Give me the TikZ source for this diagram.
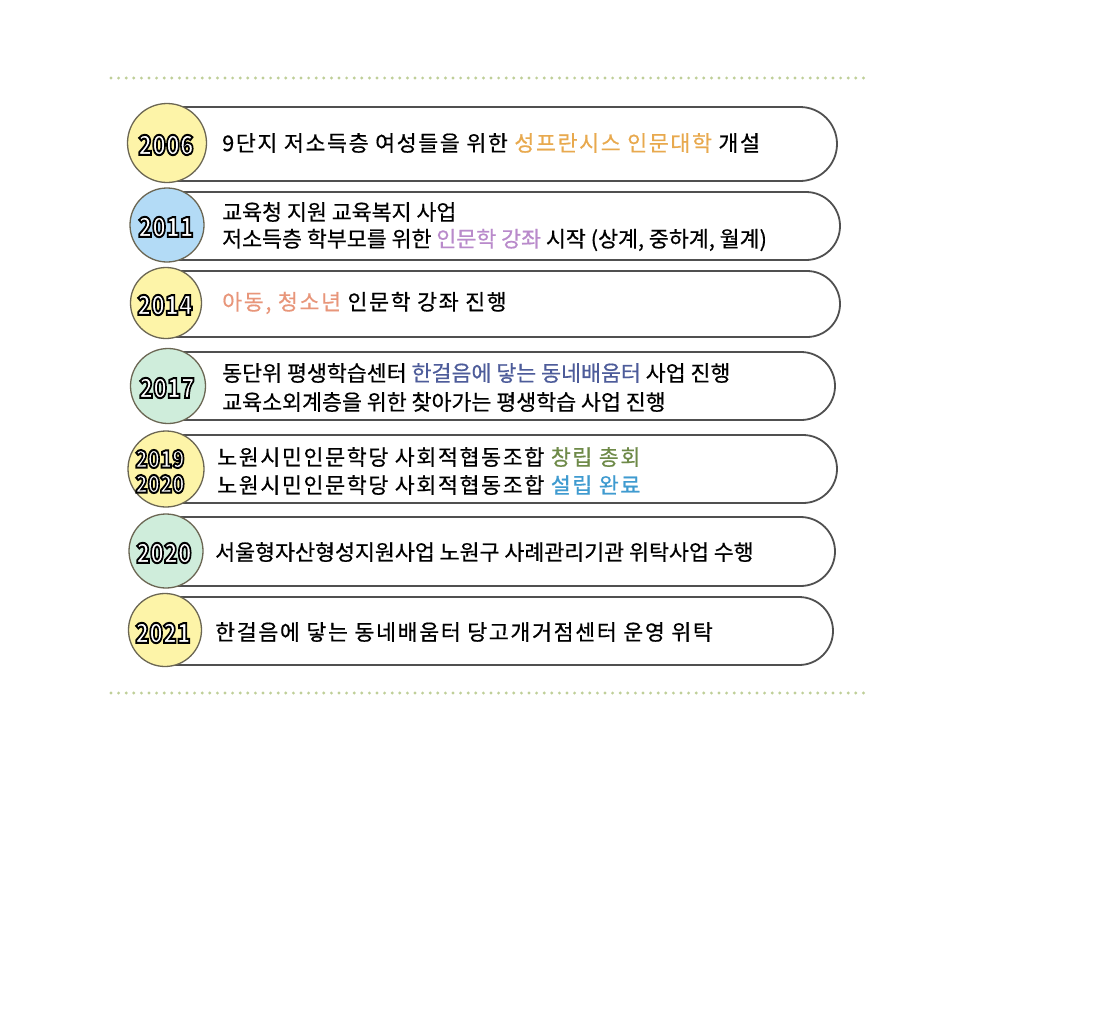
\documentclass[tikz,border=0pt]{standalone}
\usepackage{fontspec}
\usepackage{graphicx}
\usetikzlibrary{shapes.misc}
\setmainfont{Noto Sans CJK KR}[FakeBold=0.6]
\newfontfamily\yearfont{Noto Sans CJK KR}
\newfontfamily\widefont{Noto Sans CJK KR}[LetterSpace=7.5,FakeBold=0.6]
\definecolor{dotc}{HTML}{BFCF98}
\definecolor{barline}{HTML}{505050}
\definecolor{circline}{HTML}{6B6653}
\definecolor{cyel}{HTML}{FDF4A8}
\definecolor{cblue}{HTML}{B3DBF6}
\definecolor{cgreen}{HTML}{CFEDDB}
\definecolor{korange}{HTML}{E8A94E}
\definecolor{kpurple}{HTML}{B98ACB}
\definecolor{ksalmon}{HTML}{E8967A}
\definecolor{kblue}{HTML}{4D5C9A}
\definecolor{kgreen}{HTML}{6E8A48}
\definecolor{kteal}{HTML}{3F9BD0}
\newcommand{\yr}[1]{\special{pdf:code q 0 G 1 g 2 Tr 2.0 w}\scalebox{0.84}[1]{#1}\special{pdf:code Q}}
\tikzset{
  bar/.style={rounded rectangle, rounded rectangle left arc=none, draw=barline, line width=1.8pt, fill=white, inner sep=0pt},
  yearcirc/.style={circle, draw=circline, line width=1.3pt, inner sep=0pt},
  yeartext/.style={font=\yearfont\bfseries\fontsize{27}{29}\selectfont, inner sep=0pt},
  yeartextsmall/.style={font=\yearfont\bfseries\fontsize{24}{26}\selectfont, inner sep=0pt},
  line/.style={anchor=west, inner sep=0pt, font=\fontsize{21.7}{24}\selectfont},
  wline/.style={anchor=west, inner sep=0pt, font=\widefont\fontsize{21.7}{24}\selectfont},
  dotline/.style={dotc, line width=3.2pt, line cap=round, dash pattern=on 0pt off 7.6pt}
}
\begin{document}
\begin{tikzpicture}[x=1pt,y=-1pt]
\useasboundingbox (0,0) rectangle (1100,1012);
\fill[white] (0,0) rectangle (1100,1012);
% dotted separators
\coordinate (d1a) at (111,78); \coordinate (d1b) at (870,78);
\coordinate (d2a) at (111,693); \coordinate (d2b) at (870,693);
\draw[dotline] (d1a) -- (d1b);
\draw[dotline] (d2a) -- (d2b);
% bars
\node[bar, minimum width=670pt, minimum height=74pt] (b1) at (502,144) {};
\node[bar, minimum width=673pt, minimum height=68pt] (b2) at (503.5,226) {};
\node[bar, minimum width=673pt, minimum height=66pt] (b3) at (503.5,304) {};
\node[bar, minimum width=668pt, minimum height=68pt] (b4) at (501,386) {};
\node[bar, minimum width=670pt, minimum height=68pt] (b5) at (502,469) {};
\node[bar, minimum width=668pt, minimum height=69pt] (b6) at (501,551.5) {};
\node[bar, minimum width=666pt, minimum height=68pt] (b7) at (500,631) {};
% circles
\node[yearcirc, fill=cyel, minimum size=79pt] (c1) at (167,143) {};
\node[yearcirc, fill=cblue, minimum size=74pt] (c2) at (167,225) {};
\node[yearcirc, fill=cyel, minimum size=71pt] (c3) at (166,303) {};
\node[yearcirc, fill=cgreen, minimum size=75pt] (c4) at (168,386) {};
\node[yearcirc, fill=cyel, minimum size=76pt] (c5) at (166,469) {};
\node[yearcirc, fill=cgreen, minimum size=74pt] (c6) at (166,551) {};
\node[yearcirc, fill=cyel, minimum size=73pt] (c7) at (165,630) {};
% year labels
\node[yeartext] (y1) at (166,145) {\yr{2006}};
\node[yeartext] (y2) at (166,227) {\yr{2011}};
\node[yeartext] (y3) at (165,305) {\yr{2014}};
\node[yeartext] (y4) at (167,388) {\yr{2017}};
\node[yeartextsmall] (y5a) at (160,459) {\yr{2019}};
\node[yeartextsmall] (y5b) at (160,484) {\yr{2020}};
\node[yeartext] (y6) at (164,553) {\yr{2020}};
\node[yeartext] (y7) at (163,633) {\yr{2021}};
% texts
\node[wline] (t1) at (222,143) {9단지 저소득층 여성들을 위한 \textcolor{korange}{성프란시스 인문대학} 개설};
\node[line] (t2a) at (222,212) {교육청 지원 교육복지 사업};
\node[line] (t2b) at (222,240) {저소득층 학부모를 위한 \textcolor{kpurple}{인문학 강좌} 시작 (상계, 중하계, 월계)};
\node[wline] (t3) at (222,303) {\textcolor{ksalmon}{아동, 청소년} 인문학 강좌 진행};
\node[line] (t4a) at (222,373) {동단위 평생학습센터 \textcolor{kblue}{한걸음에 닿는 동네배움터} 사업 진행};
\node[line] (t4b) at (222,402) {교육소외계층을 위한 찾아가는 평생학습 사업 진행};
\node[wline] (t5a) at (217,457) {노원시민인문학당 사회적협동조합 \textcolor{kgreen}{창립 총회}};
\node[wline] (t5b) at (217,485) {노원시민인문학당 사회적협동조합 \textcolor{kteal}{설립 완료}};
\node[line] (t6) at (215,552) {서울형자산형성지원사업 노원구 사례관리기관 위탁사업 수행};
\node[wline] (t7) at (215,632) {한걸음에 닿는 동네배움터 당고개거점센터 운영 위탁};
\end{tikzpicture}
\end{document}
